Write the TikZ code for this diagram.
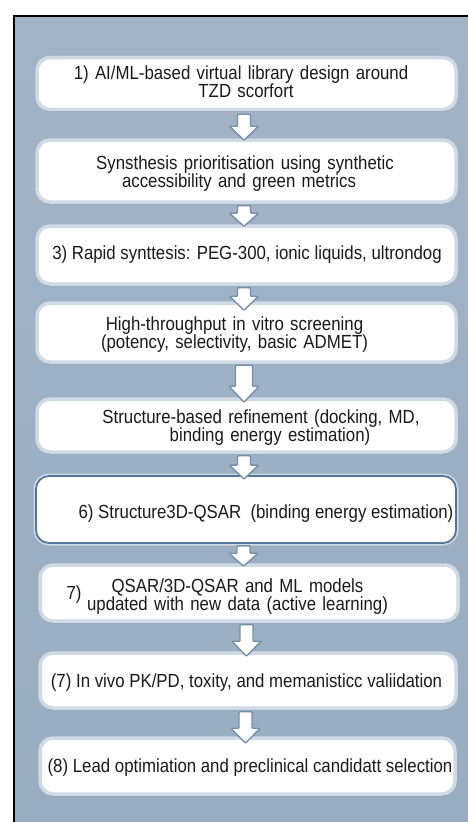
\documentclass[tikz,border=0pt]{standalone}
\usepackage{fontspec}
\setmainfont[FakeStretch=0.885]{Liberation Sans}
\usetikzlibrary{calc,shadows}

\definecolor{bgtop}{HTML}{A2B3C5}
\definecolor{bgbot}{HTML}{99ADC1}
\definecolor{boxedge}{HTML}{D0DAE4}
\definecolor{boxdark}{HTML}{56769A}
\definecolor{arrowedge}{HTML}{7590AC}
\definecolor{txt}{HTML}{1A1A1A}

\tikzset{
  stagebox/.style={rectangle, rounded corners=13pt, fill=white, draw=boxedge,
    line width=3.5pt, inner sep=0pt,
    drop shadow={shadow xshift=0.6pt, shadow yshift=-2pt, opacity=0.35, fill=black!60!bgbot}},
  keybox/.style={stagebox, draw=boxdark, line width=1.8pt,
    preaction={draw=boxedge, line width=5pt}},
  label/.style={anchor=base, inner sep=0pt, text=txt,
    font=\fontsize{19pt}{17pt}\selectfont},
  twoline/.style={label, text width=400pt, align=center},
  arrowbody/.style={draw=arrowedge, fill=white, line width=1.4pt, line join=round,
    rounded corners=0.8pt},
}

% block arrow from the bottom of #1 to the top of #2
% #3 start gap, #4 tip overlap, #5 shaft half width, #6 head half width, #7 head length
\newcommand\blockarrow[7]{%
  \path let \p1=($(#1.south)+(-2.5,#3)$), \p2=($(#2.north)+(-2.5,#4)$) in
    [arrowbody] ({\x1-#5pt},\y1) -- ({\x1+#5pt},\y1) -- ({\x1+#5pt},{\y2+#7pt})
      -- ({\x1+#6pt},{\y2+#7pt}) -- (\x1,\y2) -- ({\x1-#6pt},{\y2+#7pt})
      -- ({\x1-#5pt},{\y2+#7pt}) -- cycle;
}

\begin{document}
\begin{tikzpicture}[x=1pt,y=-1pt]
\useasboundingbox (0,0) rectangle (468,822);
\fill[white] (0,0) rectangle (468,822);
\shade[top color=bgtop, bottom color=bgbot] (14,16) rectangle (468,822);
\draw[black, line width=1.5pt] (14,822) -- (14,16) -- (468,16);

% stage boxes
\node[stagebox, minimum width=419pt, minimum height=52pt] (b1) at (246.5,83.5) {};
\node[stagebox, minimum width=419pt, minimum height=62pt] (b2) at (246.5,171) {};
\node[stagebox, minimum width=419pt, minimum height=58pt] (b3) at (246.5,255) {};
\node[stagebox, minimum width=419pt, minimum height=59pt] (b4) at (246.5,332.5) {};
\node[stagebox, minimum width=419pt, minimum height=53pt] (b5) at (246.5,425.5) {};
\node[keybox,   minimum width=420pt, minimum height=67pt] (b6) at (246,509.5) {};
\node[stagebox, minimum width=418pt, minimum height=56pt] (b7) at (249,593) {};
\node[stagebox, minimum width=416pt, minimum height=55pt] (b8) at (248,680.5) {};
\node[stagebox, minimum width=415pt, minimum height=56pt] (b9) at (247.5,766) {};

% stage texts
\node[twoline] (t1) at (241,79) {1) AI/ML-based virtual library design around\\ \hspace*{10pt}TZD scorfort};
\node[twoline] (t2) at (245,169) {Synsthesis prioritisation using synthetic\\ accessibility and green metrics\hspace*{12pt}};
\node[label]   (t3) at (247,259) {3) Rapid synttesis: PEG-300, ionic liquids, ultrondog};
\node[twoline] (t4) at (234.5,330) {High-throughput in vitro screening\\ (potency, selectivity, basic ADMET)};
\node[twoline] (t5) at (261,423) {Structure-based refinement (docking, MD,\\ \hspace*{18pt}binding energy estimation)};
\node[label]   (t6) at (266,518) {6) Structure3D-QSAR\ \ (binding energy estimation)};
\node[label]   (t7n) at (74,599) {7)};
\node[twoline] (t7) at (237.5,592) {QSAR/3D-QSAR and ML models\hspace*{28pt}\\ updated with new data (active learning)};
\node[label]   (t8) at (246.5,687) {(7) In vivo PK/PD, toxity, and memanisticc valiidation};
\node[label]   (t9) at (250,772) {(8) Lead optimiation and preclinical candidatt selection};

% connecting block arrows
\blockarrow{b1}{b2}{3}{2}{6.5}{14.5}{14}
\blockarrow{b2}{b3}{2}{2}{6.5}{14.5}{13}
\blockarrow{b3}{b4}{2}{9}{6.5}{14.5}{14}
\blockarrow{b4}{b5}{1.5}{5}{8.5}{15}{16}
\blockarrow{b5}{b6}{2}{4}{6.5}{14.5}{14}
\blockarrow{b6}{b7}{2}{3}{6.5}{14.5}{13}
\blockarrow{b7}{b8}{2}{5}{6.5}{14.5}{15}
\blockarrow{b8}{b9}{2}{7}{6.5}{14.5}{15}
\end{tikzpicture}
\end{document}
